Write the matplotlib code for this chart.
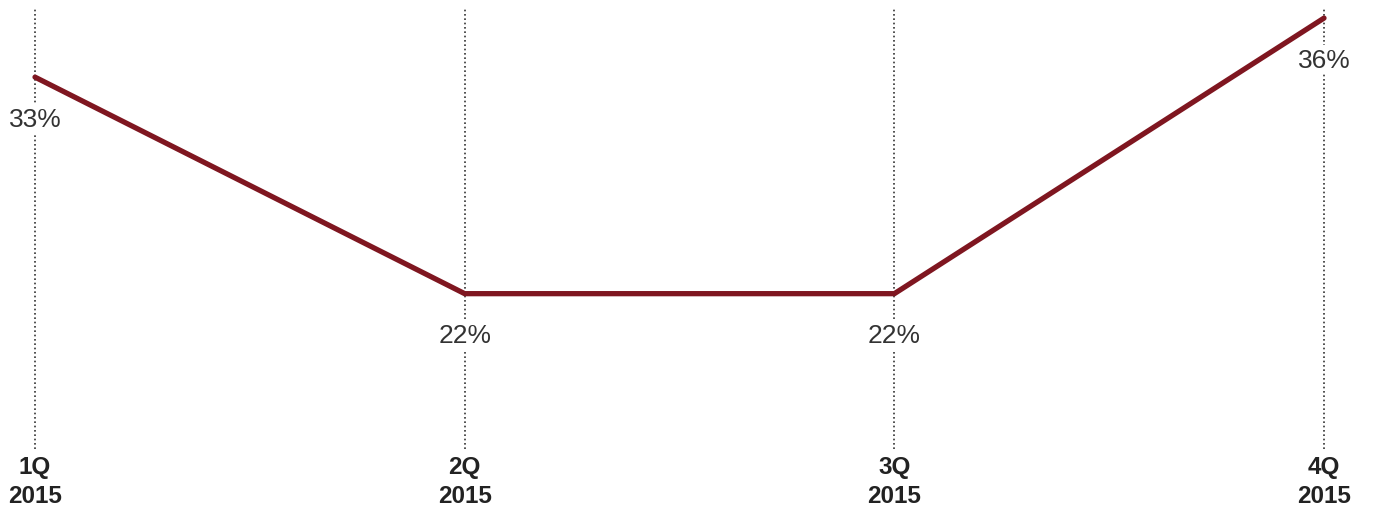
import matplotlib.pyplot as plt
import numpy as np

plt.rcParams['font.family'] = ['Liberation Sans', 'DejaVu Sans']

quarters = ['1Q\n2015', '2Q\n2015', '3Q\n2015', '4Q\n2015']
share = [33, 22, 22, 36]

fig = plt.figure(figsize=(13.73, 5.1), dpi=100)
ax = fig.add_axes([0, 0, 1, 1])
x = np.arange(len(quarters))

ax.set_xlim(-0.0815, 3.114)
ax.set_ylim(11.06, 36.97)

# dotted guides behind each quarter
for xi in x:
    ax.axvline(xi, ymin=0.118, ymax=0.984, color='#333333', lw=1.2,
               linestyle=(0, (1, 1.6)), zorder=1)

ax.plot(x, share, color='#7f1620', lw=3.8, solid_capstyle='round',
        solid_joinstyle='miter', zorder=3)

for xi, v in zip(x, share):
    ax.annotate(f'{v}%', (xi, v), xytext=(0, -30), textcoords='offset points',
                ha='center', va='center', fontsize=19, color='#333333',
                bbox=dict(boxstyle='square,pad=0.1', fc='white', ec='none'),
                zorder=4)

# quarter labels at the bottom
for xi, q in zip(x, quarters):
    ax.text(xi, 0.054, q, transform=ax.get_xaxis_transform(), ha='center',
            va='center', fontsize=17.5, fontweight='bold', color='#222222',
            linespacing=1.33)

ax.axis('off')
fig.savefig('out.png', dpi=100)
